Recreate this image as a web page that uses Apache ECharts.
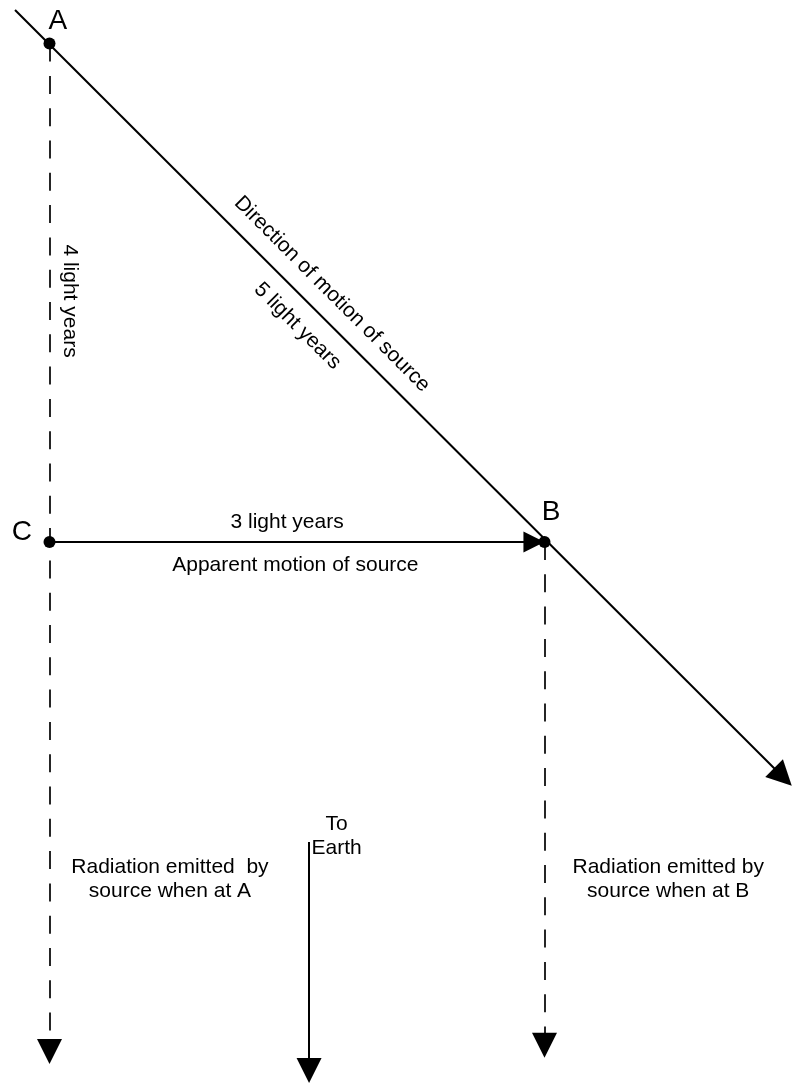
<!DOCTYPE html>
<html>
<head>
<meta charset="utf-8">
<script src="https://cdn.jsdelivr.net/npm/echarts@6/dist/echarts.min.js"></script>
<style>
html,body{margin:0;padding:0;background:#fff;}
#main{width:792px;height:1084px;}
</style>
</head>
<body>
<div id="main"></div>
<script>
// Points of the triangle (light-year units: C at origin)
const pointNames = ['A', 'B', 'C'];
const pointX = [0, 3, 0];
const pointY = [4, 0, 0];

// Arrow segments: [startX, startY, endX, endY] in diagram units (end = arrowhead centre)
const directionLine = [-0.209, 4.27, 4.445, -1.886];
const apparentLine = [0, 0, 2.936, 0];
const rayFromA = [0, 4, 0, -4.09];
const rayFromB = [3, 0, 3, -4.04];
const toEarth = [1.573, -2.408, 1.573, -4.242];

// Text labels and their anchor points
const labelTexts = ['A', 'B', 'C', '3 light years', 'Apparent motion of source', '4 light years',
  'Direction of motion of source', '5 light years',
  'Radiation emitted  by\nsource when at A', 'To\nEarth', 'Radiation emitted by\nsource when at B'];
const labelX = [0.05, 3.04, -0.167, 1.44, 1.49, 0.124, 1.712, 1.503, 0.73, 1.74, 3.75];
const labelY = [4.18, 0.24, 0.08, 0.16, -0.185, 1.934, 1.99, 1.733, -2.71, -2.36, -2.71];
const labelRotate = [0, 0, 0, 0, 0, -90, -45, -45, 0, 0, 0];
const labelBig = [true, true, true, false, false, false, false, false, false, false, false];

const chart = echarts.init(document.getElementById('main'), null, {renderer: 'canvas'});

function seg(a) { return {coords: [[a[0], a[1]], [a[2], a[3]]]}; }

const arrowSolid = {
  type: 'lines', coordinateSystem: 'cartesian2d', silent: true,
  symbol: ['none', 'triangle'], symbolSize: [20, 25],
  lineStyle: {color: '#000', width: 2, type: 'solid', opacity: 1, curveness: 0},
  itemStyle: {color: '#000', opacity: 1}
};
const arrowDashed = {
  type: 'lines', coordinateSystem: 'cartesian2d', silent: true,
  symbol: ['none', 'triangle'], symbolSize: [20, 25],
  lineStyle: {color: '#000', width: 1.7, type: [18, 14.3], opacity: 1, curveness: 0},
  itemStyle: {color: '#000', opacity: 1}
};

const option = {
  animation: false,
  backgroundColor: '#fff',
  grid: {left: 0, right: 0, top: 0, bottom: 0, containLabel: false},
  xAxis: {type: 'value', min: -0.3, max: 4.5, show: false},
  yAxis: {type: 'value', min: -4.35, max: 4.35, show: false},
  series: [
    Object.assign({}, arrowDashed, {data: [seg(rayFromA), seg(rayFromB)]}),
    Object.assign({}, arrowSolid, {data: [seg(directionLine), seg(toEarth)]}),
    Object.assign({}, arrowSolid, {symbolSize: [20, 21], data: [seg(apparentLine)]}),
    {
      type: 'scatter', silent: true, symbol: 'circle', symbolSize: 12,
      itemStyle: {color: '#000', opacity: 1},
      data: pointNames.map((n, i) => [pointX[i], pointY[i]])
    },
    {
      type: 'scatter', silent: true, symbolSize: 0,
      itemStyle: {opacity: 1},
      data: labelTexts.map((t, i) => ({
        value: [labelX[i], labelY[i]],
        label: {
          show: true, position: 'inside', formatter: t, rotate: labelRotate[i],
          align: 'center', verticalAlign: 'middle', opacity: 1,
          fontFamily: 'Liberation Sans, Arial, sans-serif',
          fontSize: labelBig[i] ? 28 : 21, lineHeight: 24, color: '#000'
        }
      }))
    }
  ]
};
chart.setOption(option);
</script>
</body>
</html>
